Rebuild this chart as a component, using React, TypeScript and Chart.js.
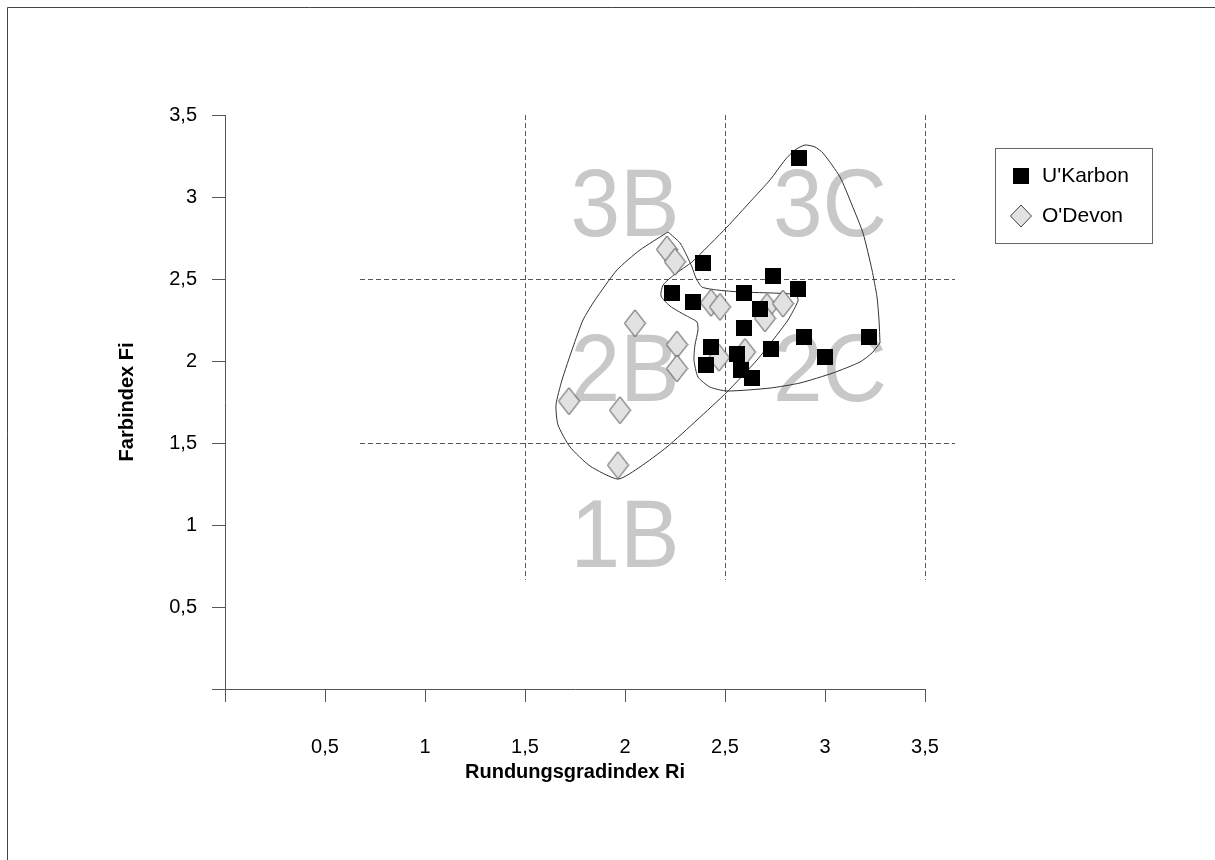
import React, { useEffect, useRef } from "react";
import { Chart, registerables } from "chart.js";
Chart.register(...registerables);

const FONT = "'Liberation Sans', Arial, sans-serif";

// U'Karbon (squares)
const karbonX = [2.87, 2.39, 2.74, 2.865, 2.235, 2.34, 2.595, 2.675, 2.595, 2.43, 2.405, 2.56, 2.58, 2.635, 2.73, 2.895, 3.0, 3.22];
const karbonY = [3.24, 2.6, 2.52, 2.44, 2.415, 2.36, 2.415, 2.32, 2.2, 2.085, 1.975, 2.045, 1.945, 1.895, 2.075, 2.145, 2.025, 2.145];

// O'Devon (diamonds)
const devonX = [2.21, 2.25, 2.43, 2.475, 2.71, 2.7, 2.79, 2.05, 2.26, 2.26, 2.47, 2.6, 1.72, 1.975, 1.965];
const devonY = [2.68, 2.605, 2.355, 2.33, 2.33, 2.26, 2.35, 2.23, 2.1, 1.955, 2.02, 2.055, 1.755, 1.7, 1.365];

// Outline of the left (B) field
const leafX = [2.215, 2.275, 2.31, 2.335, 2.355, 2.385, 2.46, 2.575, 2.725, 2.825, 2.86, 2.865, 2.815, 2.74, 2.66, 2.51, 2.36, 2.21, 2.075, 1.965, 1.825, 1.725, 1.665, 1.655, 1.685, 1.74, 1.79, 1.85, 1.96, 2.075, 2.215];
const leafY = [2.787, 2.72, 2.64, 2.573, 2.506, 2.451, 2.433, 2.421, 2.415, 2.409, 2.396, 2.366, 2.25, 2.128, 2.006, 1.811, 1.64, 1.476, 1.354, 1.28, 1.36, 1.476, 1.61, 1.732, 1.884, 2.085, 2.25, 2.372, 2.555, 2.677, 2.787];

// Outline of the right (C) field
const blobX = [3.275, 3.235, 3.175, 3.04, 2.875, 2.725, 2.51, 2.425, 2.365, 2.345, 2.35, 2.365, 2.36, 2.3, 2.225, 2.18, 2.19, 2.25, 2.335, 2.51, 2.625, 2.725, 2.8, 2.85, 2.9, 2.95, 2.99, 3.075, 3.135, 3.19, 3.235, 3.26, 3.27, 3.275];
const blobY = [2.11, 2.049, 1.994, 1.927, 1.866, 1.835, 1.817, 1.841, 1.902, 2.006, 2.098, 2.189, 2.238, 2.28, 2.335, 2.396, 2.463, 2.53, 2.604, 2.817, 2.97, 3.104, 3.226, 3.287, 3.317, 3.305, 3.268, 3.122, 2.951, 2.78, 2.555, 2.39, 2.25, 2.11];

// Dashed class boundaries
const vLinesX = [1.5, 2.5, 3.5];
const vLinesRange = [0.665, 3.5];
const hLinesY = [2.5, 1.5];
const hLinesRange = [0.675, 3.65];

// Class labels
const zoneText = ["3B", "3C", "2B", "2C", "1B"];
const zoneX = [2.0, 3.025, 2.0, 3.025, 2.0];
const zoneY = [2.97, 2.97, 1.963, 1.963, 0.951];

const axisMin = 0;
const axisMax = 3.5;
const axisStep = 0.5;

const fmt = (v: number) => (v === 0 ? "" : String(v).replace(".", ","));

function makeSquare(size: number) {
  const c = document.createElement("canvas");
  c.width = size;
  c.height = size;
  const g = c.getContext("2d")!;
  g.fillStyle = "#000";
  g.fillRect(0, 0, size, size);
  return c;
}

function makeDiamond(w: number, h: number) {
  const c = document.createElement("canvas");
  c.width = w + 2;
  c.height = h + 2;
  const g = c.getContext("2d")!;
  g.beginPath();
  g.moveTo(1 + w / 2, 1);
  g.lineTo(1 + w, 1 + h / 2);
  g.lineTo(1 + w / 2, 1 + h);
  g.lineTo(1, 1 + h / 2);
  g.closePath();
  g.fillStyle = "#e2e2e2";
  g.fill();
  g.strokeStyle = "#404040";
  g.lineWidth = 1;
  g.stroke();
  return c;
}

const backgroundPlugin = {
  id: "background",
  beforeDatasetsDraw(chart: any) {
    const { ctx, scales } = chart;
    const xs = scales.x;
    const ys = scales.y;
    ctx.save();
    ctx.strokeStyle = "#555";
    ctx.lineWidth = 1;
    ctx.setLineDash([5, 3]);
    vLinesX.forEach((v) => {
      const px = Math.round(xs.getPixelForValue(v)) + 0.5;
      ctx.beginPath();
      ctx.moveTo(px, ys.getPixelForValue(vLinesRange[1]));
      ctx.lineTo(px, ys.getPixelForValue(vLinesRange[0]));
      ctx.stroke();
    });
    hLinesY.forEach((v) => {
      const py = Math.round(ys.getPixelForValue(v)) + 0.5;
      ctx.beginPath();
      ctx.moveTo(xs.getPixelForValue(hLinesRange[0]), py);
      ctx.lineTo(xs.getPixelForValue(hLinesRange[1]), py);
      ctx.stroke();
    });
    ctx.setLineDash([]);
    ctx.fillStyle = "#c8c8c8";
    ctx.font = `96px ${FONT}`;
    ctx.textAlign = "center";
    ctx.textBaseline = "alphabetic";
    zoneText.forEach((t, i) => {
      const px = xs.getPixelForValue(zoneX[i]);
      const py = ys.getPixelForValue(zoneY[i]);
      ctx.save();
      ctx.translate(px, py + 34);
      ctx.scale(0.93, 1);
      ctx.fillText(t, 0, 0);
      ctx.restore();
    });
    ctx.restore();
  },
};

const overlayPlugin = {
  id: "overlay",
  afterDraw(chart: any) {
    const { ctx } = chart;
    ctx.save();
    // frame
    ctx.strokeStyle = "#444";
    ctx.lineWidth = 1;
    ctx.beginPath();
    ctx.moveTo(7.5, 860);
    ctx.lineTo(7.5, 7.5);
    ctx.lineTo(1215, 7.5);
    ctx.stroke();
    // legend
    ctx.strokeStyle = "#666";
    ctx.strokeRect(995.5, 148.5, 157, 95);
    ctx.fillStyle = "#000";
    ctx.fillRect(1013, 168, 16, 16);
    ctx.beginPath();
    ctx.moveTo(1021, 205);
    ctx.lineTo(1031.5, 216);
    ctx.lineTo(1021, 227);
    ctx.lineTo(1010.5, 216);
    ctx.closePath();
    ctx.fillStyle = "#e2e2e2";
    ctx.fill();
    ctx.strokeStyle = "#404040";
    ctx.stroke();
    ctx.fillStyle = "#000";
    ctx.font = `21px ${FONT}`;
    ctx.textAlign = "left";
    ctx.textBaseline = "middle";
    ctx.fillText(chart.data.datasets[0].label, 1042, 176);
    ctx.fillText(chart.data.datasets[1].label, 1042, 216);
    ctx.restore();
  },
};

export default function App() {
  const ref = useRef<HTMLCanvasElement | null>(null);
  useEffect(() => {
    if (!ref.current) return;
    const square = makeSquare(16);
    const diamond = makeDiamond(21, 27);
    const tickFont = { family: FONT, size: 20 };
    const titleFont = { family: FONT, size: 20, weight: "bold" as const };
    const chart = new Chart(ref.current, {
      type: "scatter",
      data: {
        datasets: [
          {
            label: "U'Karbon",
            data: karbonX.map((x, i) => ({ x, y: karbonY[i] })),
            pointStyle: square as any,
            pointRadius: 8,
            order: 0,
          },
          {
            label: "O'Devon",
            data: devonX.map((x, i) => ({ x, y: devonY[i] })),
            pointStyle: diamond as any,
            pointRadius: 10,
            order: 1,
          },
          {
            label: "B",
            data: leafX.map((x, i) => ({ x, y: leafY[i] })),
            showLine: true,
            pointRadius: 0,
            borderColor: "#333",
            borderWidth: 1,
            tension: 0.2,
            fill: false,
            order: 2,
          } as any,
          {
            label: "C",
            data: blobX.map((x, i) => ({ x, y: blobY[i] })),
            showLine: true,
            pointRadius: 0,
            borderColor: "#333",
            borderWidth: 1,
            tension: 0.2,
            fill: false,
            order: 3,
          } as any,
        ],
      },
      options: {
        responsive: false,
        animation: false,
        devicePixelRatio: 1,
        events: [],
        layout: { padding: { left: 0, top: 115, right: 290, bottom: 0 } },
        plugins: { legend: { display: false }, tooltip: { enabled: false } },
        scales: {
          x: {
            type: "linear",
            min: axisMin,
            max: axisMax,
            afterFit: (s: any) => {
              s.height = 171;
            },
            border: { display: true, color: "#555", width: 1 },
            grid: { drawOnChartArea: false, drawTicks: true, tickLength: 13, color: "#555" },
            ticks: { stepSize: axisStep, padding: 33, color: "#000", font: tickFont, callback: (v: any) => fmt(Number(v)) },
            title: { display: true, text: "Rundungsgradindex Ri", color: "#000", font: titleFont, padding: { top: 0, bottom: 76 } },
          },
          y: {
            type: "linear",
            min: axisMin,
            max: axisMax,
            afterFit: (s: any) => {
              s.width = 225;
            },
            border: { display: true, color: "#555", width: 1 },
            grid: { drawOnChartArea: false, drawTicks: true, tickLength: 13, color: "#555" },
            ticks: { stepSize: axisStep, padding: 15, color: "#000", font: tickFont, callback: (v: any) => fmt(Number(v)) },
            title: { display: true, text: "Farbindex Fi", color: "#000", font: titleFont, padding: { top: 115, bottom: 0 } },
          },
        },
      },
      plugins: [backgroundPlugin, overlayPlugin],
    });
    return () => chart.destroy();
  }, []);
  return (
    <div style={{ position: "absolute", left: 0, top: 0, width: 1215, height: 860, background: "#fff" }}>
      <canvas ref={ref} width={1215} height={860} />
    </div>
  );
}
